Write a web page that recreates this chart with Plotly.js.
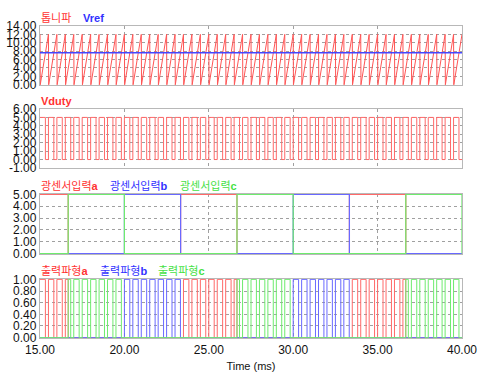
<!DOCTYPE html>
<html>
<head>
<meta charset="utf-8">
<script src="https://cdn.plot.ly/plotly-3.0.1.min.js"></script>
<style>html,body{margin:0;padding:0;background:#fff;}#chart{width:481px;height:377px;}</style>
</head>
<body>
<div id="chart"></div>
<script>
// ---- data ----
const timeRange = [15.0, 40.0];
const xTickVals = [15, 20, 25, 30, 35, 40];
const carrierPeakTimes = [15.0, 15.5, 16.0, 16.5, 17.0, 17.5, 18.0, 18.5, 19.0, 19.5,
  20.0, 20.5, 21.0, 21.5, 22.0, 22.5, 23.0, 23.5, 24.0, 24.5,
  25.0, 25.5, 26.0, 26.5, 27.0, 27.5, 28.0, 28.5, 29.0, 29.5,
  30.0, 30.5, 31.0, 31.5, 32.0, 32.5, 33.0, 33.5, 34.0, 34.5,
  35.0, 35.5, 36.0, 36.5, 37.0, 37.5, 38.0, 38.5, 39.0, 39.5, 40.0];
const sawPeak = [12.0];
const sawMin = [0.0];
const vrefLevel = [7.6];
const dutyHigh = [5.0];
const dutyLow = [0.0];
const dutyOnMs = [0.32];
const hallHigh = [5.0];
const outHigh = [1.0];
const hallA_rise = [15.0, 23.33, 33.33];
const hallA_fall = [16.67, 26.67, 36.67];
const hallB_rise = [20.0, 30.0];
const hallB_fall = [23.33, 33.33];
const hallC_rise = [16.67, 26.67, 36.67];
const hallC_fall = [20.0, 30.0, 40.0];
const y1Ticks = [0, 2, 4, 6, 8, 10, 12, 14];
const y2Ticks = [-1, 0, 1, 2, 3, 4, 5, 6];
const y3Ticks = [0, 1, 2, 3, 4, 5];
const y4Ticks = [0, 0.2, 0.4, 0.6, 0.8, 1.0];

// ---- colours ----
const RED = 'rgb(255,50,50)', BLUE = 'rgb(50,50,255)', GREEN = 'rgb(70,225,70)';
const RED_L = 'rgb(255,105,105)', BLUE_L = 'rgb(105,105,255)', GREEN_L = 'rgb(110,235,110)';

// ---- build series ----
const sawX = [], sawY = [];
carrierPeakTimes.forEach((s, i) => {
  sawX.push(s); sawY.push(sawPeak[0]);
  if (i < carrierPeakTimes.length - 1) { sawX.push(s + 0.015); sawY.push(sawMin[0]); }
});

const dutyX = [], dutyY = [];
const pulses = [];
carrierPeakTimes.slice(0, -1).forEach(s => {
  dutyX.push(s); dutyY.push(dutyHigh[0]);
  dutyX.push(s + dutyOnMs[0]); dutyY.push(dutyLow[0]);
  pulses.push([s, s + dutyOnMs[0]]);
});
dutyX.push(timeRange[1]); dutyY.push(dutyLow[0]);

function hallSeries(rise, fall) {
  const ev = [];
  rise.forEach(t => ev.push([t, hallHigh[0]]));
  fall.forEach(t => ev.push([t, 0]));
  ev.sort((a, b) => a[0] - b[0]);
  const x = [timeRange[0]], y = [0];
  ev.forEach(([t, v]) => {
    if (t <= timeRange[0]) { y[0] = v; return; }
    x.push(t); y.push(v);
  });
  if (x[x.length - 1] < timeRange[1]) { x.push(timeRange[1]); y.push(y[y.length - 1]); }
  return {x, y};
}

function outSeries(rise, fall) {
  const iv = [];
  rise.forEach((r, i) => {
    const f = fall[i];
    pulses.forEach(([a, b]) => {
      const lo = Math.max(a, r), hi = Math.min(b, f);
      if (hi > lo) iv.push([lo, hi]);
    });
  });
  iv.sort((a, b) => a[0] - b[0]);
  const x = [timeRange[0]], y = [0];
  iv.forEach(([a, b]) => {
    if (a <= timeRange[0]) { y[0] = outHigh[0]; }
    else { x.push(a); y.push(outHigh[0]); }
    x.push(b); y.push(0);
  });
  x.push(timeRange[1]); y.push(0);
  return {x, y};
}

const hA = hallSeries(hallA_rise, hallA_fall);
const hB = hallSeries(hallB_rise, hallB_fall);
const hC = hallSeries(hallC_rise, hallC_fall);
const oA = outSeries(hallA_rise, hallA_fall);
const oB = outSeries(hallB_rise, hallB_fall);
const oC = outSeries(hallC_rise, hallC_fall);

const traces = [
  {x: sawX, y: sawY, xaxis: 'x', yaxis: 'y', mode: 'lines', line: {color: 'rgb(255,85,85)', width: 1}},
  {x: timeRange, y: [vrefLevel[0], vrefLevel[0]], xaxis: 'x', yaxis: 'y', mode: 'lines', line: {color: 'rgb(70,70,255)', width: 1.5}},
  {x: dutyX, y: dutyY, xaxis: 'x2', yaxis: 'y2', mode: 'lines', line: {color: RED_L, width: 1, shape: 'hv'}},
  {x: hA.x, y: hA.y, xaxis: 'x3', yaxis: 'y3', mode: 'lines', line: {color: RED_L, width: 1.2, shape: 'hv'}},
  {x: hB.x, y: hB.y, xaxis: 'x3', yaxis: 'y3', mode: 'lines', line: {color: BLUE_L, width: 1.2, shape: 'hv'}},
  {x: hC.x, y: hC.y, xaxis: 'x3', yaxis: 'y3', mode: 'lines', line: {color: GREEN_L, width: 1.2, shape: 'hv'}},
  {x: oA.x, y: oA.y, xaxis: 'x4', yaxis: 'y4', mode: 'lines', line: {color: RED_L, width: 1, shape: 'hv'}},
  {x: oB.x, y: oB.y, xaxis: 'x4', yaxis: 'y4', mode: 'lines', line: {color: BLUE_L, width: 1, shape: 'hv'}},
  {x: oC.x, y: oC.y, xaxis: 'x4', yaxis: 'y4', mode: 'lines', line: {color: GREEN_L, width: 1, shape: 'hv'}}
];
traces.forEach(t => { t.hoverinfo = 'skip'; t.showlegend = false; t.cliponaxis = false; });

const FONT = 'Liberation Sans, Arial, Noto Sans CJK KR, sans-serif';
const common = {
  showline: true, mirror: true, linecolor: '#b8b8b8', linewidth: 1.2,
  showgrid: true, gridcolor: '#a0a0a0', griddash: 'dot', gridwidth: 1,
  zeroline: false, ticks: '', layer: 'below traces', fixedrange: true,
  tickfont: {family: FONT, size: 12, color: '#111'}
};
function xAx(anchor, showLabels) {
  return Object.assign({}, common, {
    anchor: anchor, domain: [0, 1], range: timeRange, tickmode: 'array',
    tickvals: xTickVals, ticktext: xTickVals.map(v => v.toFixed(2)), showticklabels: showLabels
  });
}
function yAx(anchor, domain, ticks, range) {
  return Object.assign({}, common, {
    anchor: anchor, domain: domain, range: range, tickmode: 'array',
    tickvals: ticks, ticktext: ticks.map(v => v.toFixed(2))
  });
}

const plotW = 422;
function px(p) { return (p - 42) / plotW; }
function ann(text, color, xpx, ytop) {
  return {text: text, xref: 'paper', yref: 'paper', x: px(xpx), y: ytop, xanchor: 'left', yanchor: 'bottom',
    showarrow: false, font: {family: FONT, size: 11, color: color}, yshift: 0};
}

const D1 = [0.811, 1.0], D2 = [0.545, 0.734], D3 = [0.269, 0.4615], D4 = [0, 0.189];

const layout = {
  width: 481, height: 377,
  margin: {l: 40, r: 19, t: 26, b: 39},
  paper_bgcolor: '#fff', plot_bgcolor: '#fff', showlegend: false,
  xaxis: xAx('y', false),
  xaxis2: xAx('y2', false),
  xaxis3: xAx('y3', false),
  xaxis4: Object.assign(xAx('y4', true), {title: {text: 'Time (ms)', font: {family: FONT, size: 11, color: '#111'}, standoff: 6}}),
  yaxis: yAx('x', D1, y1Ticks, [-0.05, 14]),
  yaxis2: yAx('x2', D2, y2Ticks, [-1, 6]),
  yaxis3: yAx('x3', D3, y3Ticks, [-0.03, 5.03]),
  yaxis4: yAx('x4', D4, y4Ticks, [-0.006, 1.006]),
  annotations: [
    ann('톱니파', RED, 41, D1[1]),
    ann('<b>Vref</b>', BLUE, 83, D1[1]),
    ann('<b>Vduty</b>', RED, 41, D2[1]),
    ann('광센서입력<b>a</b>', RED, 41, D3[1]),
    ann('광센서입력<b>b</b>', BLUE, 110, D3[1]),
    ann('광센서입력<b>c</b>', GREEN, 180, D3[1]),
    ann('출력파형<b>a</b>', RED, 41, D4[1]),
    ann('출력파형<b>b</b>', BLUE, 100, D4[1]),
    ann('출력파형<b>c</b>', GREEN, 158, D4[1])
  ]
};

Plotly.newPlot('chart', traces, layout, {staticPlot: true, displayModeBar: false});
</script>
</body>
</html>
